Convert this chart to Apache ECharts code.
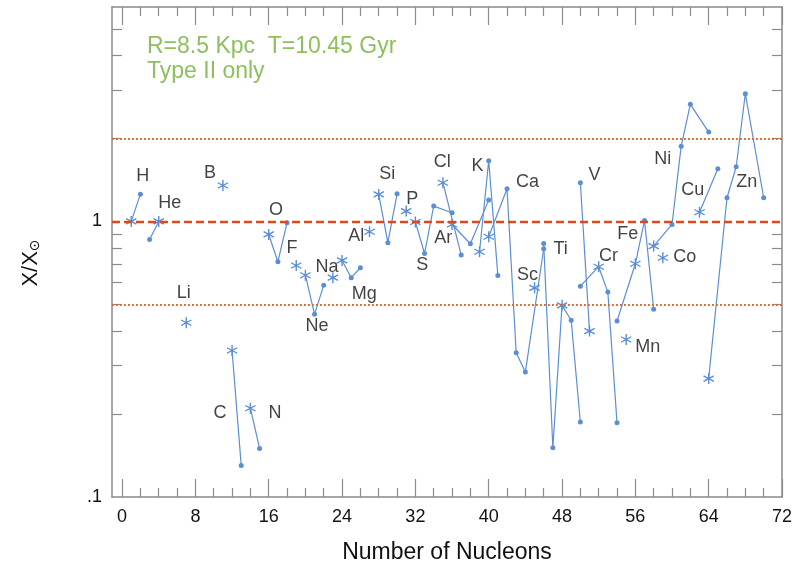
<!DOCTYPE html>
<html><head><meta charset="utf-8">
<script src="https://cdn.jsdelivr.net/npm/echarts@6/dist/echarts.min.js"></script>
<style>html,body{margin:0;padding:0;background:#fff}#chart{width:801px;height:569px}</style>
</head><body><div id="chart"></div>
<script>
// ---- data ----
const elements = ['H','He','Li','B','C','N','O','F','Ne','Na','Mg','Al','Si','P','S','Cl','Ar','K','Ca','Sc','Ti','V','Cr','Mn','Fe','Co','Ni','Cu','Zn'];
const massNumbers = [[1,2],[3,4],[7],[11],[12,13],[14,15],[16,17,18],[19],[20,21,22],[23],[24,25,26],[27],[28,29,30],[31],[32,33,34,36],[35,37],[36,38,40],[39,40,41],[40,42,43,44,46],[45],[46,47,48,49,50],[50,51],[50,52,53,54],[55],[54,56,57,58],[59],[58,60,61,62,64],[63,65],[64,66,67,68,70]];
const ratios = [[1.0,1.256],[0.86,1.0],[0.429],[1.35],[0.34,0.130],[0.21,0.150],[0.897,0.714,0.99],[0.692],[0.638,0.46,0.587],[0.625],[0.722,0.625,0.679],[0.917],[1.253,0.837,1.26],[1.09],[0.995,0.765,1.137,1.075],[1.382,0.755],[0.975,0.83,1.195],[0.776,1.66,0.637],[0.88,1.314,0.334,0.284,0.796],[0.574],[0.832,0.151,0.496,0.438,0.187],[1.382,0.40],[0.582,0.685,0.554,0.186],[0.373],[0.435,0.702,1.008,0.48],[0.738],[0.814,0.975,1.876,2.66,2.11],[1.08,1.553],[0.269,1.219,1.579,2.907,1.219]];
const mainIsotope = [1,4,7,11,12,14,16,19,20,23,24,27,28,31,32,35,36,39,40,45,48,51,52,55,56,59,58,63,64];
// element label anchors (mass number, ratio)
const labelMass  = [2.26,5.21,6.74,9.58,10.68,16.69,16.8,18.55,21.28,22.37,26.41,25.54,28.93,31.66,32.75,34.94,35.05,38.77,44.23,44.23,47.84,51.55,53.08,57.34,55.16,61.39,58.98,62.26,68.16];
const labelRatio = [1.457,1.162,0.548,1.494,0.201,0.201,1.096,0.798,0.419,0.686,0.543,0.882,1.481,1.202,0.692,1.637,0.868,1.584,1.385,0.637,0.791,1.469,0.746,0.349,0.897,0.740,1.679,1.296,1.385];
const refLines = [1, 2, 0.5];
const xMajorTicks = [0,8,16,24,32,40,48,56,64,72];
const xMinorTicks = [2,4,6,10,12,14,18,20,22,26,28,30,34,36,38,42,44,46,50,52,54,58,60,62,66,68,70];
const yLabelTicks = [0.1, 1];
const yMinorTicks = [0.2,0.3,0.4,0.5,0.6,0.7,0.8,0.9,2,3,4,5];
const noteLines = ['R=8.5 Kpc  T=10.45 Gyr', 'Type II only'];

// ---- styling ----
const FONT = "'Liberation Sans', Arial, Helvetica, sans-serif";
const gray = '#8a8a8a';
const blue = '#5b8ed6';
const STAR = 'path://M-1.2,-10 L1.2,-10 L1.2,10 L-1.2,10 Z M-8.06,-6.04 L9.26,3.96 L8.06,6.04 L-9.26,-3.96 Z M8.06,-6.04 L9.26,-3.96 L-8.06,6.04 L-9.26,3.96 Z';

const chart = echarts.init(document.getElementById('chart'), null, {renderer:'canvas'});

const elementSeries = elements.map((el, i) => ({
  type: 'line', name: el, xAxisIndex: 0, yAxisIndex: 0,
  animation: false, showAllSymbol: true, z: 3,
  lineStyle: {color: blue, width: 1.2},
  itemStyle: {color: blue},
  data: massNumbers[i].map((a, j) => ({
    value: [a, ratios[i][j]],
    symbol: a === mainIsotope[i] ? STAR : 'circle',
    symbolSize: a === mainIsotope[i] ? 11 : 5
  }))
}));

const lineStyles = [
  {color:'#e0471c', width:2.4, type:[8,4]},
  {color:'#e0662a', width:1.8, type:[1.8,2.2]},
  {color:'#e0662a', width:1.8, type:[1.8,2.2]}
];
elementSeries[0].markLine = {
  silent: true, symbol: ['none','none'], label: {show:false}, animation:false,
  data: refLines.map((v, k) => ({yAxis: v, lineStyle: lineStyles[k]}))
};

const labelSeries = {
  type: 'scatter', xAxisIndex: 0, yAxisIndex: 0, symbolSize: 0, z: 5, animation:false, silent:true,
  data: elements.map((el, i) => ({name: el, value: [labelMass[i], labelRatio[i]]})),
  label: {show: true, position: 'inside', formatter: p => p.name, fontSize: 18, color: '#111', fontFamily: FONT}
};

const xBase = {type:'value', min:-1.1, max:72, splitLine:{show:false}};
const yBase = {type:'log', logBase:10, min:0.1, max:6, splitLine:{show:false}};
const tickStyle = {color: gray, width: 1.2};

const option = {
  backgroundColor: '#fff',
  textStyle: {fontFamily: FONT},
  grid: {left:112, right:19, top:7, bottom:72, containLabel:false},
  xAxis: [
    Object.assign({}, xBase, {position:'bottom',
      axisLine:{show:true, onZero:false, lineStyle:{color:gray, width:1.5}},
      axisTick:{show:true, inside:true, length:18, customValues:xMajorTicks, lineStyle:tickStyle},
      axisLabel:{customValues:xMajorTicks, fontSize:18, color:'#111', margin:11, fontFamily:FONT},
      name:'Number of Nucleons', nameLocation:'middle', nameGap:44,
      nameTextStyle:{fontSize:23, color:'#111', fontFamily:FONT}}),
    Object.assign({}, xBase, {position:'bottom', axisLine:{show:false},
      axisTick:{show:true, inside:true, length:9, customValues:xMinorTicks, lineStyle:tickStyle},
      axisLabel:{show:false}}),
    Object.assign({}, xBase, {position:'top',
      axisLine:{show:true, onZero:false, lineStyle:{color:gray, width:1.5}},
      axisTick:{show:true, inside:true, length:18, customValues:xMajorTicks, lineStyle:tickStyle},
      axisLabel:{show:false}}),
    Object.assign({}, xBase, {position:'top', axisLine:{show:false},
      axisTick:{show:true, inside:true, length:9, customValues:xMinorTicks, lineStyle:tickStyle},
      axisLabel:{show:false}})
  ],
  yAxis: [
    Object.assign({}, yBase, {position:'left',
      axisLine:{show:true, onZero:false, lineStyle:{color:gray, width:1.5}},
      axisTick:{show:true, inside:true, length:10, customValues:yMinorTicks, lineStyle:tickStyle},
      axisLabel:{customValues:yLabelTicks, fontSize:18, color:'#111', margin:10, fontFamily:FONT,
        formatter: v => (Math.abs(v - 0.1) < 1e-9 ? '.1' : String(Math.round(v)))},
      name:'X/X{s|⊙}', nameLocation:'middle', nameGap:70, nameRotate:90,
      nameTextStyle:{fontSize:22, color:'#111', fontFamily:FONT, padding:[0,22,0,0],
        rich:{s:{fontSize:14, color:'#111', padding:[9,0,0,0], fontFamily:"'DejaVu Sans', sans-serif"}}}}),
    Object.assign({}, yBase, {position:'right',
      axisLine:{show:true, onZero:false, lineStyle:{color:gray, width:1.5}},
      axisTick:{show:true, inside:true, length:10, customValues:yMinorTicks, lineStyle:tickStyle},
      axisLabel:{show:false}})
  ],
  graphic: [{
    type:'text', left:147, top:34, z:10,
    style:{text: noteLines.join('\n'), fill:'#8dbf5c', font:"23px " + FONT, lineHeight:25}
  }],
  series: elementSeries.concat([labelSeries])
};
chart.setOption(option);
</script></body></html>
